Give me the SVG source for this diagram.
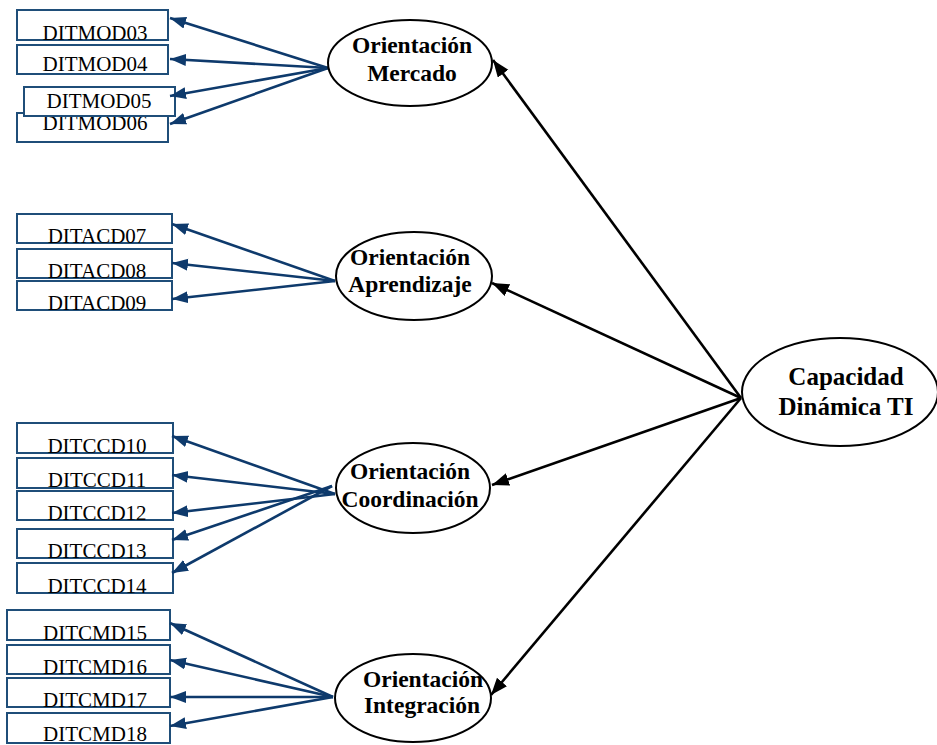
<svg xmlns="http://www.w3.org/2000/svg" width="937" height="745" viewBox="0 0 937 745">
<style>
.box{fill:#fff;stroke:#1f4e79;stroke-width:2}
.bt{font-family:"Liberation Serif","Times New Roman",serif;font-size:21px;fill:#000;text-anchor:middle}
.el{fill:#fff;stroke:#000;stroke-width:2}
.et{font-family:"Liberation Serif","Times New Roman",serif;font-size:23.5px;font-weight:bold;fill:#000;text-anchor:middle}
.ct{font-family:"Liberation Serif","Times New Roman",serif;font-size:25px;font-weight:bold;fill:#000;text-anchor:middle}
.bl{stroke:#0e3a6c;stroke-width:2.6;fill:none;marker-end:url(#ab)}
.kl{stroke:#000;stroke-width:2.6;fill:none;marker-end:url(#ak)}
</style>
<defs>
<marker id="ab" markerUnits="userSpaceOnUse" markerWidth="17" markerHeight="13" refX="16" refY="6" orient="auto"><path d="M0,0 L16,6 L0,12 z" fill="#0e3a6c"/></marker>
<marker id="ak" markerUnits="userSpaceOnUse" markerWidth="18" markerHeight="14" refX="17" refY="6.5" orient="auto"><path d="M0,0 L17,6.5 L0,13 z" fill="#000"/></marker>
</defs>
<rect width="937" height="745" fill="#fff"/>
<g id="DITMOD03"><rect class="box" x="17" y="10" width="151" height="30"/><text class="bt" x="95" y="40">DITMOD03</text></g>
<g id="DITMOD04"><rect class="box" x="17" y="45" width="151" height="29"/><text class="bt" x="95" y="71">DITMOD04</text></g>
<g id="DITMOD06"><rect class="box" x="17" y="113" width="151" height="29"/><text class="bt" x="95" y="130">DITMOD06</text></g>
<g id="DITMOD05"><rect class="box" x="24" y="87" width="151" height="29"/><text class="bt" x="99" y="108">DITMOD05</text></g>
<g id="DITACD07"><rect class="box" x="17" y="214" width="155" height="29"/><text class="bt" x="97" y="243">DITACD07</text></g>
<g id="DITACD08"><rect class="box" x="17" y="249" width="155" height="29"/><text class="bt" x="97" y="278">DITACD08</text></g>
<g id="DITACD09"><rect class="box" x="17" y="281" width="155" height="29"/><text class="bt" x="97" y="310">DITACD09</text></g>
<g id="DITCCD10"><rect class="box" x="17" y="423" width="156" height="30"/><text class="bt" x="97" y="453">DITCCD10</text></g>
<g id="DITCCD11"><rect class="box" x="17" y="458" width="156" height="30"/><text class="bt" x="97" y="487">DITCCD11</text></g>
<g id="DITCCD12"><rect class="box" x="17" y="491" width="156" height="29"/><text class="bt" x="97" y="520">DITCCD12</text></g>
<g id="DITCCD13"><rect class="box" x="17" y="529" width="156" height="29"/><text class="bt" x="97" y="558">DITCCD13</text></g>
<g id="DITCCD14"><rect class="box" x="17" y="563" width="156" height="30"/><text class="bt" x="97" y="593">DITCCD14</text></g>
<g id="DITCMD15"><rect class="box" x="7" y="610" width="163" height="30"/><text class="bt" x="95" y="640">DITCMD15</text></g>
<g id="DITCMD16"><rect class="box" x="7" y="645" width="163" height="29"/><text class="bt" x="95" y="674">DITCMD16</text></g>
<g id="DITCMD17"><rect class="box" x="7" y="678" width="163" height="29"/><text class="bt" x="95" y="707">DITCMD17</text></g>
<g id="DITCMD18"><rect class="box" x="7" y="713" width="163" height="30"/><text class="bt" x="95" y="741">DITCMD18</text></g>
<g id="connectors">
<line class="bl" x1="328" y1="68" x2="170" y2="18"/>
<line class="bl" x1="328" y1="68" x2="170" y2="59"/>
<line class="bl" x1="328" y1="68" x2="170" y2="96"/>
<line class="bl" x1="328" y1="68" x2="170" y2="124"/>
<line class="bl" x1="335" y1="281" x2="172" y2="224"/>
<line class="bl" x1="335" y1="281" x2="172" y2="263"/>
<line class="bl" x1="335" y1="281" x2="172" y2="299"/>
<line class="bl" x1="335" y1="494" x2="172" y2="436"/>
<line class="bl" x1="335" y1="494" x2="172" y2="475"/>
<line class="bl" x1="335" y1="494" x2="172" y2="513"/>
<line class="bl" x1="332" y1="486" x2="172" y2="540"/>
<line class="bl" x1="332" y1="486" x2="172" y2="573"/>
<line class="bl" x1="333" y1="697" x2="170" y2="623"/>
<line class="bl" x1="333" y1="697" x2="170" y2="660"/>
<line class="bl" x1="333" y1="697" x2="170" y2="697"/>
<line class="bl" x1="333" y1="697" x2="170" y2="726"/>
<line class="kl" x1="741" y1="398" x2="493" y2="60"/>
<line class="kl" x1="741" y1="398" x2="492" y2="283"/>
<line class="kl" x1="741" y1="398" x2="492" y2="485"/>
<line class="kl" x1="741" y1="398" x2="491" y2="695"/>
</g>
<g id="OrientacionMercado"><ellipse class="el" cx="410" cy="63" rx="82" ry="43"/><text class="et" x="412" y="53">Orientación</text><text class="et" x="412" y="81">Mercado</text></g>
<g id="OrientacionAprendizaje"><ellipse class="el" cx="414" cy="276" rx="78" ry="44"/><text class="et" x="410" y="265">Orientación</text><text class="et" x="410" y="292">Aprendizaje</text></g>
<g id="OrientacionCoordinacion"><ellipse class="el" cx="413" cy="488" rx="77" ry="45"/><text class="et" x="410" y="479">Orientación</text><text class="et" x="410" y="507">Coordinación</text></g>
<g id="OrientacionIntegracion"><ellipse class="el" cx="413" cy="698" rx="78" ry="44"/><text class="et" x="423" y="687">Orientación</text><text class="et" x="422" y="713">Integración</text></g>
<g id="CapacidadDinamicaTI"><ellipse class="el" cx="840" cy="392" rx="98" ry="54"/><text class="ct" x="846" y="385">Capacidad</text><text class="ct" x="846" y="415">Dinámica TI</text></g>
</svg>
